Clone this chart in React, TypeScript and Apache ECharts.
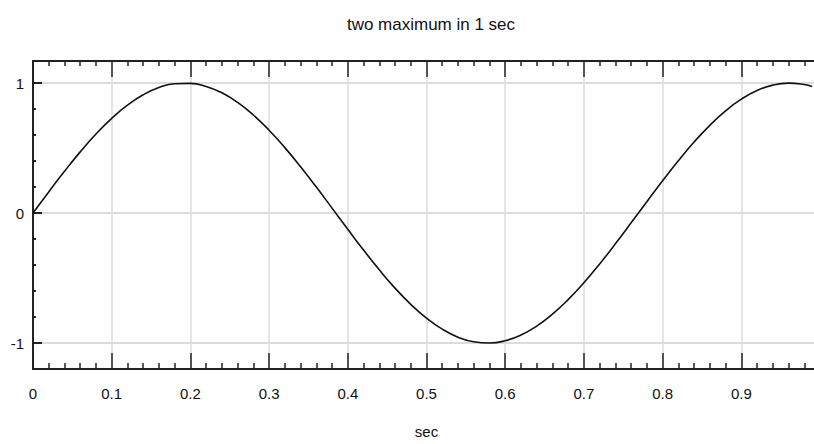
import React, { useEffect, useRef } from "react";
import * as echarts from "echarts";

const titleText = "two maximum in 1 sec";
const xName = "sec";
const timeValues = [
  0, 0.02, 0.04, 0.06, 0.08, 0.1, 0.12, 0.14, 0.16, 0.18,
  0.2, 0.22, 0.24, 0.26, 0.28, 0.3, 0.32, 0.34, 0.36, 0.38,
  0.4, 0.42, 0.44, 0.46, 0.48, 0.5, 0.52, 0.54, 0.56, 0.58,
  0.6, 0.62, 0.64, 0.66, 0.68, 0.7, 0.72, 0.74, 0.76, 0.78,
  0.8, 0.82, 0.84, 0.86, 0.88, 0.9, 0.92, 0.94, 0.96, 0.98, 0.99,
];
const signalValues = [
  0, 0.1626, 0.3209, 0.4707, 0.608, 0.729, 0.8303, 0.91, 0.9654, 0.995,
  0.998, 0.9745, 0.9251, 0.851, 0.7543, 0.6374, 0.5036, 0.3567, 0.2, 0.0378,
  -0.1253, -0.285, -0.4371, -0.5776, -0.7024, -0.8088, -0.8936, -0.9548, -0.9905, -0.9997,
  -0.9823, -0.9388, -0.8702, -0.7786, -0.6662, -0.5362, -0.3916, -0.2367, -0.0754, 0.0877,
  0.2486, 0.4028, 0.5462, 0.6751, 0.7862, 0.8761, 0.9428, 0.9845, 0.9999, 0.9887, 0.9731,
];
const yMajorTicks = [-1, 0, 1];
const yMinorTicks = [-0.8, -0.6, -0.4, -0.2, 0.2, 0.4, 0.6, 0.8];

const FONT = "'Liberation Sans', Arial, sans-serif";

export default function App() {
  const ref = useRef<HTMLDivElement>(null);
  useEffect(() => {
    if (!ref.current) return;
    const chart = echarts.init(ref.current, null, { renderer: "svg" });
    const axisLineStyle = { color: "#222", width: 2 };
    const gridColor = "#dcdcdc";
    chart.setOption({
      animation: false,
      backgroundColor: "#ffffff",
      title: {
        text: titleText,
        left: 426,
        textAlign: "center",
        top: 11,
        textStyle: { fontFamily: FONT, fontSize: 17, fontWeight: "normal", color: "#111" },
      },
      grid: { left: 33, right: 0, top: 61, bottom: 75, containLabel: false },
      xAxis: [
        {
          type: "value",
          min: 0,
          max: 1,
          interval: 0.1,
          position: "bottom",
          name: xName,
          nameLocation: "middle",
          nameGap: 55,
          nameTextStyle: { fontFamily: FONT, fontSize: 15, color: "#111" },
          axisLine: { show: true, onZero: false, lineStyle: axisLineStyle },
          axisTick: { show: true, inside: true, length: 16, lineStyle: { color: "#222", width: 1.5 } },
          minorTick: { show: true, splitNumber: 5, length: 6, lineStyle: { color: "#222", width: 1.5 } },
          axisLabel: {
            fontFamily: FONT,
            fontSize: 15,
            color: "#111",
            margin: 17,
            showMaxLabel: false,
            formatter: (v: number) => String(Math.round(v * 10) / 10),
          },
          splitLine: { show: true, lineStyle: { color: gridColor, width: 1.5 } },
        },
        {
          type: "value",
          min: 0,
          max: 1,
          interval: 0.1,
          position: "top",
          axisLine: { show: true, onZero: false, lineStyle: axisLineStyle },
          axisTick: { show: true, inside: true, length: 16, lineStyle: { color: "#222", width: 1.5 } },
          minorTick: { show: true, splitNumber: 5, length: 5, lineStyle: { color: "#222", width: 1.5 } },
          axisLabel: { show: false },
          splitLine: { show: false },
        },
      ],
      yAxis: [
        {
          type: "value",
          min: -1.2,
          max: 1.17,
          position: "left",
          axisLine: { show: true, onZero: false, lineStyle: axisLineStyle },
          axisTick: { show: true, inside: true, length: 9, customValues: yMajorTicks, lineStyle: { color: "#222", width: 2 } },
          axisLabel: {
            customValues: yMajorTicks,
            fontFamily: FONT,
            fontSize: 15,
            color: "#111",
            margin: 9,
            formatter: (v: number) => String(v),
          },
          splitLine: { show: true, lineStyle: { color: gridColor, width: 2 } },
        },
        {
          type: "value",
          min: -1.2,
          max: 1.17,
          position: "left",
          axisLine: { show: false },
          axisTick: { show: true, inside: true, length: 3, customValues: yMinorTicks, lineStyle: { color: "#222", width: 2 } },
          axisLabel: { show: false },
          splitLine: { show: false },
        },
      ],
      series: [
        {
          type: "line",
          xAxisIndex: 0,
          yAxisIndex: 0,
          data: timeValues.map((t, i) => [t, signalValues[i]]),
          showSymbol: false,
          symbol: "none",
          smooth: 0.5,
          lineStyle: { color: "#111", width: 1.6 },
        },
      ],
    });
    return () => chart.dispose();
  }, []);
  return (
    <div style={{ position: "fixed", left: 0, top: 0, width: 814, height: 444, overflow: "hidden", background: "#fff" }}>
      <div ref={ref} style={{ width: 820, height: 444 }} />
    </div>
  );
}
